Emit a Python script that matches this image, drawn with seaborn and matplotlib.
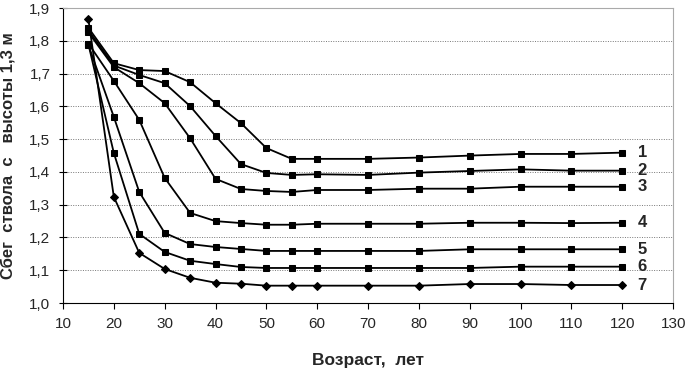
import matplotlib
matplotlib.use("Agg")
import matplotlib.pyplot as plt
import seaborn as sns
import pandas as pd
from matplotlib.ticker import FuncFormatter, MultipleLocator

# Data
age = [15, 20, 25, 30, 35, 40, 45, 50, 55, 60, 70, 80, 90, 100, 110, 120]
s1 = [1.840, 1.732, 1.711, 1.708, 1.674, 1.610, 1.549, 1.473, 1.440, 1.440, 1.440, 1.444, 1.450, 1.455, 1.455, 1.459]
s2 = [1.832, 1.725, 1.696, 1.671, 1.601, 1.510, 1.424, 1.397, 1.391, 1.393, 1.391, 1.398, 1.403, 1.408, 1.404, 1.404]
s3 = [1.826, 1.720, 1.671, 1.610, 1.503, 1.379, 1.348, 1.342, 1.339, 1.345, 1.345, 1.349, 1.349, 1.355, 1.355, 1.355]
s4 = [1.792, 1.678, 1.559, 1.382, 1.275, 1.250, 1.244, 1.239, 1.239, 1.242, 1.242, 1.242, 1.245, 1.245, 1.244, 1.245]
s5 = [1.787, 1.568, 1.339, 1.214, 1.180, 1.171, 1.165, 1.159, 1.159, 1.159, 1.159, 1.159, 1.164, 1.164, 1.164, 1.164]
s6 = [1.790, 1.458, 1.211, 1.156, 1.129, 1.119, 1.110, 1.107, 1.107, 1.107, 1.107, 1.107, 1.107, 1.111, 1.111, 1.111]
s7 = [1.866, 1.324, 1.153, 1.104, 1.077, 1.062, 1.059, 1.053, 1.053, 1.053, 1.053, 1.053, 1.058, 1.058, 1.055, 1.055]
labels = ["1", "2", "3", "4", "5", "6", "7"]
series = [s1, s2, s3, s4, s5, s6, s7]

sns.set_style("white")
plt.rcParams["font.family"] = ["Liberation Sans", "DejaVu Sans"]

fig = plt.figure(figsize=(6.89, 3.70), dpi=100)
ax = fig.add_axes([0.0914, 0.181, 0.8856, 0.797])

for lab, vals in zip(labels, series):
    df = pd.DataFrame({"age": age, "val": vals})
    marker = "D" if lab == "7" else "s"
    ms = 4.5 if lab == "7" else 5
    sns.lineplot(data=df, x="age", y="val", ax=ax, color="black", linewidth=1.3,
                 marker=marker, markersize=ms, markeredgecolor="black",
                 markerfacecolor="black")
    ax.text(age[-1] + 3, vals[-1], lab, fontsize=12, fontweight="bold",
            va="center", ha="left")

ax.set_xlim(10, 130)
ax.set_ylim(1.0, 1.9)
ax.xaxis.set_major_locator(MultipleLocator(10))
ax.yaxis.set_major_locator(MultipleLocator(0.1))
ax.yaxis.set_major_formatter(FuncFormatter(lambda v, p: f"{v:.1f}".replace(".", ",")))
ax.grid(axis="y", color="#777777", linestyle=(0, (1, 1.5)), linewidth=0.7)
ax.tick_params(axis="both", labelsize=11, length=4, width=0.8, color="black",
               direction="out", bottom=True, left=True, pad=6)
ax.tick_params(axis="y", direction="inout", length=6)

for side in ["left", "bottom"]:
    ax.spines[side].set_color("black")
    ax.spines[side].set_linewidth(0.8)
for side in ["top", "right"]:
    ax.spines[side].set_color("#aaaaaa")
    ax.spines[side].set_linewidth(0.8)

ax.set_xlabel("Возраст,  лет", fontsize=12.5, fontweight="bold")
ax.xaxis.set_label_coords(0.5, -0.168)
ax.set_ylabel("Сбег  ствола  с   высоты 1,3 м", fontsize=12, fontweight="bold")
ax.yaxis.set_label_coords(-0.078, 0.5)

fig.savefig("out.png", dpi=100)
